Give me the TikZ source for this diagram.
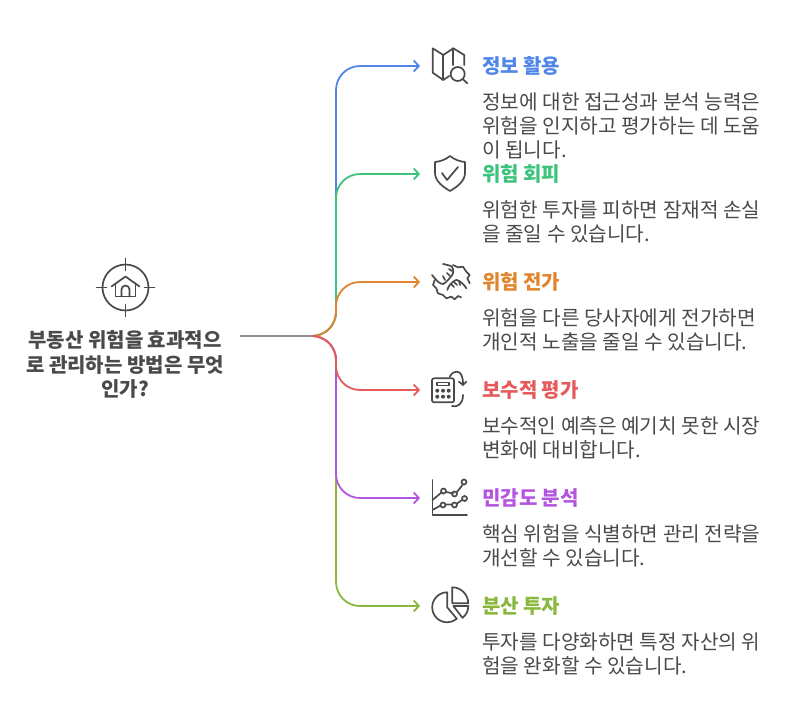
\documentclass[tikz,border=0pt]{standalone}
\usepackage{fontspec}
\setmainfont{Noto Sans CJK KR}
\usetikzlibrary{arrows.meta}

\definecolor{inkgray}{HTML}{4A4A4A}
\definecolor{stemgray}{HTML}{8E8E8E}
\definecolor{c1}{HTML}{4F86E8}
\definecolor{c2}{HTML}{3CC47C}
\definecolor{c3}{HTML}{E0852E}
\definecolor{c4}{HTML}{E55A5A}
\definecolor{c5}{HTML}{B455E0}
\definecolor{c6}{HTML}{8AB83C}

\tikzset{%
  every branch/.style={
    line width=1.8pt,
    rounded corners=24pt,
    -{Straight Barb[length=5pt,width=11pt]}
  },
  every title/.style={
    anchor=west,
    inner sep=0pt,
    font=\fontsize{20}{24}\selectfont\bfseries
  },
  every body/.style={
    anchor=north west,
    inner sep=0pt,
    align=left,
    text=inkgray,
    font=\fontsize{20.2}{24}\selectfont
  },
  every icon/.style={
    draw=inkgray,
    line width=1.7pt,
    line cap=round,
    line join=round
  },
}

\begin{document}
\begin{tikzpicture}[x=1pt, y=-1pt, >=stealth]

\useasboundingbox (0,0) rectangle (792,726);

\node [align=center, inner sep=0pt, text=inkgray,
  font=\fontsize{20}{24.5}\selectfont\bfseries] (root) at (125,364.5)
  {부동산 위험을 효과적으\\로 관리하는 방법은 무엇\\인가?};

\coordinate (stem) at (240,336);
\coordinate (hub) at (312,336);
\coordinate (bus) at (336,336);

\foreach \y/\c in {66/c1,174/c2,282/c3,606/c6,498/c5,390/c4}
  \coordinate (end-\c) at (420,\y);

\foreach \c in {c1,c2,c3,c6,c5,c4}
  \draw [every branch, draw=\c] (hub) -- (bus) -- (bus |- end-\c) -- (end-\c);

\draw [line width=1.8pt, stemgray] (stem) -- (hub);

\foreach \y/\c/\t/\b in {
  66/c1/{정보 활용}/{정보에 대한 접근성과 분석 능력은\\위험을 인지하고 평가하는 데 도움\\이 됩니다.},
  174/c2/{위험 회피}/{위험한 투자를 피하면 잠재적 손실\\을 줄일 수 있습니다.},
  282/c3/{위험 전가}/{위험을 다른 당사자에게 전가하면\\개인적 노출을 줄일 수 있습니다.},
  390/c4/{보수적 평가}/{보수적인 예측은 예기치 못한 시장\\변화에 대비합니다.},
  498/c5/{민감도 분석}/{핵심 위험을 식별하면 관리 전략을\\개선할 수 있습니다.},
  606/c6/{분산 투자}/{투자를 다양화하면 특정 자산의 위\\험을 완화할 수 있습니다.}}
{
  \node [every title, text=\c] (title-\c) at (482,\y) {\t};
  \node [every body] (body-\c) at (482,\y+26.5) {\b};
}

% root icon
\begin{scope}[shift={(125.5,287.5)}]
  \draw [every icon] (0,0) circle (23);
  \draw [every icon] (0,-29) -- (0,-17) (0,17) -- (0,29) (-29,0) -- (-19,0) (19,0) -- (29,0);
  \draw [every icon] (-14,-1) -- (0,-11) -- (14,-1);
  \draw [every icon] (-10,-4) -- (-10,9) -- (10,9) -- (10,-4);
  \draw [every icon] (-4,9) -- (-4,2) arc (180:360:4) -- (4,9);
\end{scope}

% map
\begin{scope}[shift={(451,65)}]
  \draw [every icon] (13.3,0) -- (13.3,-10) -- (2.3,-16.7) -- (-7.7,-10) -- (-18.3,-16.7) -- (-18.3,7.7) -- (-7.7,15) -- (-1.7,11);
  \draw [every icon] (-7.7,-10) -- (-7.7,15) (2.3,-16.7) -- (2.3,0);
  \draw [every icon] (6.7,9) circle (7);
  \draw [every icon] (11.7,14) -- (16.3,18.3);
\end{scope}

% shield
\begin{scope}[shift={(451,172)}]
  \draw [every icon] (-1,-16) .. controls (-6,-12) and (-11,-10.5) .. (-16,-10) -- (-16,1)
    .. controls (-16,9) and (-8,15) .. (-1,19) .. controls (6,15) and (14,9) .. (14,1) -- (14,-10)
    .. controls (9,-10.5) and (4,-12) .. (-1,-16) -- cycle;
  \draw [every icon] (-9,1) -- (-4,8) -- (7,-5);
\end{scope}

% handshake
\begin{scope}[shift={(451,281)}]
  \draw [every icon] plot [smooth] coordinates {(-19,-6) (-13,0.7) (-8,3) (-3,-1) (2,-7.7) (1,-14.3) (-8,-17)};
  \draw [every icon] (2,-16) -- (7,-13.7) -- (12,-14.3) -- (15.3,-9.3) -- (18.7,-6) -- (16.3,-2.7) -- (18.7,2.3);
  \draw [every icon] plot [smooth] coordinates {(-3.7,9) (-1.3,4) (5.3,-1) (12,3) (15.3,7.3)};
  \draw [every icon] (-16.3,-1) -- (-18,4) -- (-14.7,7.3) -- (-13,12.3) -- (-8,14) -- (-4.7,17.3) -- (0.3,15.7) -- (3.7,18.3) -- (7,15) -- (10,16.3);
  \draw [every icon] (-8,-5) -- (-6,-1) (-4,-8) -- (-1,-5) (-2,-12) -- (1,-10);
  \draw [every icon] (0,3) -- (3,6) (3,1) -- (6,4) (8,0) -- (9,4);
\end{scope}

% calculator
\begin{scope}[shift={(444,390.5)}]
  \draw [every icon, rounded corners=2pt] (-12,-12.2) rectangle (10,11.8);
  \draw [every icon] (-7,-8) rectangle (5,-5);
  \foreach \u in {-6.7,-1,4.7}
    \foreach \v in {0.2,6.2}
      \fill [inkgray] (\u,\v) circle (2);
  \draw [every icon] (5.7,-13.8) .. controls (8,-17.5) and (10,-18.8) .. (12.3,-18.8)
    .. controls (17,-18.8) and (19,-15) .. (19,-5.5);
  \draw [every icon] (15,-8.8) -- (19,-5.5) -- (22.3,-8.8);
  \draw [every icon] (8,15.5) .. controls (13,17) and (19,14) .. (19,4.5);
\end{scope}

% chart
\begin{scope}[shift={(451,497)}]
  \draw [every icon] (-18.5,-17) -- (-18.5,18) -- (16,18);
  \draw [every icon] (-18.5,3) -- (-9.5,-4.5) (-4.5,-5) -- (2,-3.5) (5.5,-4.5) -- (11.5,-12);
  \draw [every icon] (-18.5,13) -- (-10.5,8.5) (-5,7.5) -- (1,7.5) (6,6.5) -- (11,3);
  \foreach \u/\v in {-7.5/-6,3.5/-3,13/-15,-8/8,3.5/8,13.5/1.5}
    \draw [every icon] (\u,\v) circle (2.5);
\end{scope}

% pie
\begin{scope}[shift={(451,606)}]
  \draw [every icon] (-3.8,-13.7) arc (-90:-310:15) -- (-3.8,1.3) -- cycle;
  \draw [every icon] (1.2,-18.7) arc (-90:0:16) -- (1.2,-2.7) -- cycle;
  \draw [every icon] (2.3,0) -- (17.3,0) arc (0:52:15) -- cycle;
\end{scope}

\end{tikzpicture}
\end{document}
